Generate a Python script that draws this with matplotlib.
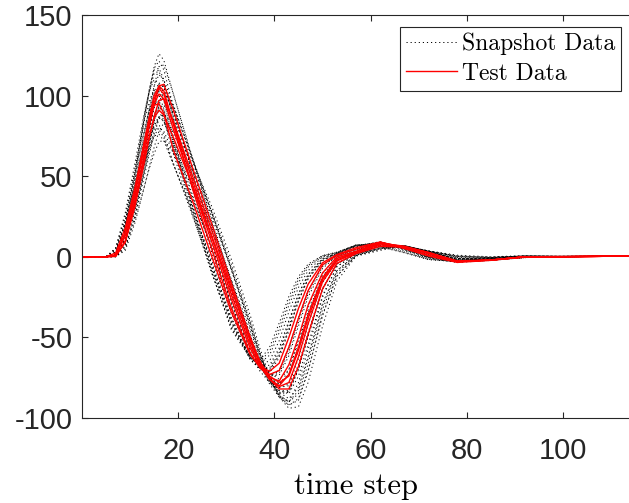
import matplotlib
matplotlib.use('Agg')
import matplotlib.pyplot as plt

plt.rcParams['axes.unicode_minus'] = False

time_step = [0, 5, 7, 9, 11, 13, 14, 15, 16, 17, 19, 23, 27, 31, 35, 37, 39, 41, 43, 45,
             47, 50, 53, 57, 62, 67, 72, 78, 85, 92, 99, 114]

# snapshot curves (dotted black)
snapshot_data = [
    [0, 0, 1.3, 18, 48, 86, 103, 118, 126, 122, 101, 61, 23, -15, -49, -67, -79, -87, -90, -78, -57.5, -25, -6, 1.8, 6.3, 6.9, 3.3, -2, -1.5, 0, 0, 0.5],
    [0, 0, 0.4, 11, 37, 72, 90, 106, 118, 119, 101, 60, 21, -16.6, -51, -67, -78, -85, -84, -70, -49.5, -20, -4.4, 2, 6.5, 6.1, 2.7, -1, -1, 0.3, 0.2, 0.5],
    [0, 0, 2.9, 22, 52, 87, 102, 114, 115, 108, 86, 46, 7.8, -28.6, -60, -71, -78, -80, -70, -51.5, -31, -10.3, 0, 3.5, 9, 6, 2, -2, -1.5, 0, 0, 0.5],
    [0, 0, 1.1, 16, 43, 77, 93, 106, 113, 110, 94, 61, 27.5, -6.6, -41, -60, -76, -87, -92, -89, -71, -36, -12, 0.8, 4.8, 6.8, 3.6, 0, -0.5, 0.5, 0.3, 0.5],
    [0, 0, 5.5, 27.5, 58, 90, 103, 110, 107, 98, 74, 32, -7, -41, -64, -69, -69, -58, -40.5, -23, -11, -1, 2.2, 7.2, 8.9, 4.5, -0.5, -3, -2, -0.3, 0, 0.5],
    [0, 0, 0.3, 9.6, 33, 64, 80, 94, 105, 106, 90, 53, 17, -19, -53, -67, -77, -81, -79, -63, -42, -16, -2.6, 2.7, 7.8, 6.5, 2.7, -1.5, -1, 0.2, 0, 0.5],
    [0, 0, 2.6, 20, 47, 78, 92, 102, 103, 97, 72, 30, -9.5, -45, -63, -66, -61, -47, -30, -16, -6.4, 0.4, 2.7, 7.2, 6.9, 3, -1.4, -3, -2, -0.5, 0, 0.5],
    [0, 0, 0, 5, 25.5, 54, 69, 84, 96, 102, 93, 60, 27, -7.7, -43.5, -61, -75, -84, -88, -81, -62, -29, -8.5, 1.3, 5.5, 6.9, 3.5, 0.5, -0.3, 0.5, 0.3, 0.5],
    [0, 0, 0.3, 9, 31, 59, 74, 87, 97, 98, 83, 48, 13, -21, -52, -64.5, -72, -76, -70, -53, -34, -12, -1, 3.1, 8.6, 6.4, 2.4, -2.5, -1.5, 0, 0, 0.5],
    [0, 0, 4.9, 24, 51, 80, 91, 97, 94, 86, 67, 31, -4.2, -38, -63.5, -70, -72, -62.5, -46, -27.6, -13.8, -2.3, 1.8, 6.6, 9.4, 5, 0, -3, -2, -0.3, 0, 0.5],
    [0, 0, 0.3, 8.6, 29.5, 57, 71, 84, 93, 94, 85.5, 59, 31, -1.2, -36.6, -57, -74, -87, -94, -93, -78, -43, -15, 0.4, 4, 6.6, 3.7, 1, 0, 0.7, 0.3, 0.5],
    [0, 0, 0.9, 13, 35, 63, 76, 87, 93, 90, 73, 38, 4.2, -31, -61, -69, -74, -71, -57, -38, -21, -5.2, 1, 4.8, 9, 5.2, 1, -2, -1.5, 0, 0, 0.5],
    [0, 0, 2.3, 17, 41, 68, 80, 89, 90, 85, 64, 26, -10.5, -43, -62, -64, -56, -41, -24.6, -12.3, -4.5, 0.8, 2.9, 7.4, 6.1, 2.5, -1.8, -3, -2.3, -0.5, 0, 0.5],
    [0, 0, 0.3, 8, 27.6, 53, 67, 78, 87, 88, 77, 49, 18.4, -15.4, -50, -66, -77, -83, -83, -69, -48.6, -20, -4.3, 2.2, 6.8, 6.5, 2.9, -1, -1, 0.2, 0, 0.5],
    [0, 0, 0.9, 12, 33, 59, 71, 82, 87, 84, 70, 42, 11, -22, -54.5, -67, -75, -79, -73, -55.5, -35, -12.6, -1, 3.1, 8.6, 6.4, 2.4, -2, -1.5, 0, 0, 0.5],
    [0, 0, 4.3, 21, 45, 70, 80, 85, 82, 76, 58, 25, -8, -40, -63, -67, -64.5, -52, -34, -19, -8.6, 0, 2.4, 7.4, 8.1, 3.8, -1, -3.5, -2.2, -0.4, 0, 0.5],
    [0, 0, 0, 4, 21, 44, 56, 68, 78, 83, 78, 53, 25, -7.6, -44, -62, -76.5, -86, -90, -83, -63, -30, -8.6, 1.3, 5.5, 6.9, 3.5, 0, -0.5, 0.5, 0.3, 0.5],
    [0, 0, 0.8, 11, 30, 54, 66, 75, 80, 78, 64, 36, 6, -27, -58.5, -68, -74, -73.4, -61.4, -43, -25, -7.2, 0.5, 4.1, 9, 5.6, 1.5, -2, -1.5, 0, 0, 0.5],
    [0, 0, 1.9, 14.6, 35, 58, 68, 75, 76, 72, 57, 28.5, -2.2, -34.7, -62, -68.4, -70, -61, -45, -27, -13.5, -2.3, 1.8, 6.3, 8.9, 4.7, 0, -3, -2, -0.3, 0, 0.5],
    [0, 0, 0.2, 6.6, 22.6, 44, 55, 64, 71.5, 72, 65, 43, 16.8, -14.5, -49, -64, -74.5, -81, -80, -67, -47, -19.4, -4.2, 2.2, 6.8, 6.5, 2.9, -1, -1, 0.2, 0, 0.5],
    [0, 0, 3, 22, 53, 88.5, 104, 116, 117, 110, 85, 42, 2.5, -33.4, -60, -69, -73, -70.5, -56, -38, -21, -5, 1, 4.8, 9, 5.2, 1, -2.5, -1.8, 0, 0, 0.5],
    [0, 0, 1.1, 15, 41, 73, 89, 101.5, 108, 105, 88, 54, 20.6, -13.6, -46, -63, -75, -83, -85, -74, -54.5, -24, -6, 1.7, 6, 6.5, 3.1, -0.5, -1, 0.3, 0.2, 0.5],
    [0, 0, 2.2, 20, 50.5, 87, 103.5, 117, 121.5, 116, 93, 51.5, 12.8, -24, -54.5, -68, -76, -79, -73, -58, -39, -15, -2.5, 3.3, 7.7, 6, 2.2, -2.2, -1.6, 0, 0, 0.5],
    [0, 0, 0.6, 10.5, 34, 65.5, 81, 95, 104.5, 106, 93.5, 60.5, 27, -7, -42, -60.5, -75.5, -85.5, -90, -85, -66.5, -32.5, -10, 1, 5, 6.8, 3.5, 0.2, -0.4, 0.5, 0.3, 0.5],
    [0, 0, 2.4, 18.5, 44, 73, 86, 95.5, 96.5, 91, 68, 28, -10, -44, -62.5, -65, -58.5, -44, -27.3, -14, -5.4, 0.6, 2.8, 7.3, 6.5, 2.7, -1.6, -3, -2.1, -0.5, 0, 0.5],
    [0, 0, 0.2, 6.3, 25, 50.5, 63.5, 76, 85.5, 88.5, 82, 56, 28, -4.4, -40, -59.5, -75, -86.5, -92, -88, -70.5, -36.5, -11.8, 0.8, 4.8, 6.7, 3.6, 0.5, -0.3, 0.6, 0.3, 0.5],
    [0, 0, 3.1, 17.8, 40, 64, 74, 80, 79, 74, 57.5, 26.8, -5.1, -37.4, -62.5, -67.7, -67.3, -56.5, -39.5, -23, -11, -1.2, 2.1, 6.8, 8.5, 4.3, -0.5, -3.2, -2.1, -0.3, 0, 0.5],
    [0, 0, 0.3, 9.5, 32, 62.5, 78.5, 92, 102.5, 103.5, 89, 54.5, 19.7, -16, -50.5, -66.5, -77.5, -84, -83.5, -69.5, -49, -20, -4.3, 2.1, 6.6, 6.3, 2.8, -1, -1, 0.2, 0.1, 0.5],
    [0, 0, 5.2, 25.8, 54.5, 85, 97, 103.5, 100.5, 92, 70.5, 31.5, -5.6, -39.5, -63.7, -69.5, -70.5, -60.2, -43.2, -25.3, -12.4, -1.6, 2, 6.9, 9.1, 4.7, -0.2, -3, -2, -0.3, 0, 0.5],
    [0, 0, 0.8, 12, 32.5, 58.5, 71, 81, 86.5, 84, 68.5, 37, 5.1, -29, -59.7, -68.5, -74, -72.2, -59.2, -40.5, -23, -6.2, 0.8, 4.4, 9, 5.4, 1.2, -2, -1.5, 0, 0, 0.5],
]

# test curves (solid red)
test_data = [
    [0, 0, 0.3, 10, 33, 65, 81, 95, 106, 107, 91, 55, 20, -16, -50, -65, -76, -82, -82, -68, -48, -20, -4, 2, 6.5, 6, 2.7, -2.5, -2, -0.3, 0, 0.5],
    [0, 0, 1, 15, 40, 71, 86, 98, 104.5, 101, 83, 47, 12, -23, -55, -68, -76, -80, -73, -56, -36, -13, -1, 3, 8, 6, 2.3, -3, -2, 0, 0, 0.5],
    [0, 0, 1, 14, 38, 69, 83, 95, 101, 98, 79, 44, 9, -26, -57, -68, -75, -77, -67, -50, -30, -10, 0, 3.5, 9, 6, 2, -3, -2, 0, 0, 0.5],
    [0, 0, 2.4, 18, 43, 72, 84, 94, 95, 89, 66, 34.5, 0, -34, -61, -68, -71, -66, -50, -32, -17, -3.7, 1.4, 5.7, 9.2, 5.2, 0.5, -3.5, -2.2, 0, 0, 0.5],
    [0, 0, 0.9, 13, 35, 62, 75, 86, 91, 88, 74, 44, 12.5, -20, -52, -65, -74, -78, -74, -58, -38, -14, -2, 3, 8.4, 6.6, 2.7, -3, -2, 0, 0, 0.5],
    [0, 0, 1, 15, 40, 72, 87, 100, 106, 103, 82, 42, 4.5, -31.5, -60, -69, -73, -70.5, -56, -38, -21, -5, 1, 4.8, 9, 5.2, 1, -3, -2, 0, 0.2, 0.5],
    [0, 0, 0.3, 9, 31, 59, 74, 87, 97, 98, 84, 50, 16, -18.5, -52.5, -66.5, -76, -80.5, -78, -62, -41.5, -15.5, -2.6, 2.5, 7.4, 6.1, 2.5, -2.8, -2, 0, 0, 0.5],
]

x_ticks = [20, 40, 60, 80, 100]
y_ticks = [-100, -50, 0, 50, 100, 150]

axis_col = '#262626'

fig = plt.figure(figsize=(6.29, 5.03), dpi=100)
ax = fig.add_axes([82 / 629, 85 / 503, 547 / 629, 403 / 503])

for i, vals in enumerate(snapshot_data):
    ax.plot(time_step, vals, color='black', linewidth=0.7, linestyle=(0, (1.2, 3.0)),
            label='Snapshot Data' if i == 0 else None)
for i, vals in enumerate(test_data):
    ax.plot(time_step, vals, color='red', linewidth=1.0, linestyle='-',
            label='Test Data' if i == 0 else None)

ax.set_xlim(0, 113.7)
ax.set_ylim(-100, 150)
ax.set_xticks(x_ticks)
ax.set_yticks(y_ticks)
ax.spines['right'].set_visible(False)
for s in ['left', 'bottom', 'top']:
    ax.spines[s].set_color(axis_col)
    ax.spines[s].set_linewidth(0.8)

ax.tick_params(axis='both', direction='in', length=4, width=0.8, colors=axis_col,
               labelsize=21, top=True, right=False)
ax.tick_params(axis='x', pad=14)
ax.tick_params(axis='y', pad=7)
for lab in ax.get_xticklabels() + ax.get_yticklabels():
    lab.set_fontfamily('Liberation Sans')

ax.set_xlabel('time step', fontfamily='cmr10', fontsize=22, labelpad=5)

lgd = ax.legend(loc='upper right', bbox_to_anchor=(621 / 629, 1 - 27 / 503),
                bbox_transform=fig.transFigure, prop={'family': 'cmr10', 'size': 17},
                frameon=True, fancybox=False, edgecolor=axis_col, framealpha=1,
                handlelength=2.15, handletextpad=0.2, borderpad=0.25,
                labelspacing=0.3, borderaxespad=0)
lgd.get_frame().set_linewidth(0.8)

plt.savefig('out.png', dpi=100)
